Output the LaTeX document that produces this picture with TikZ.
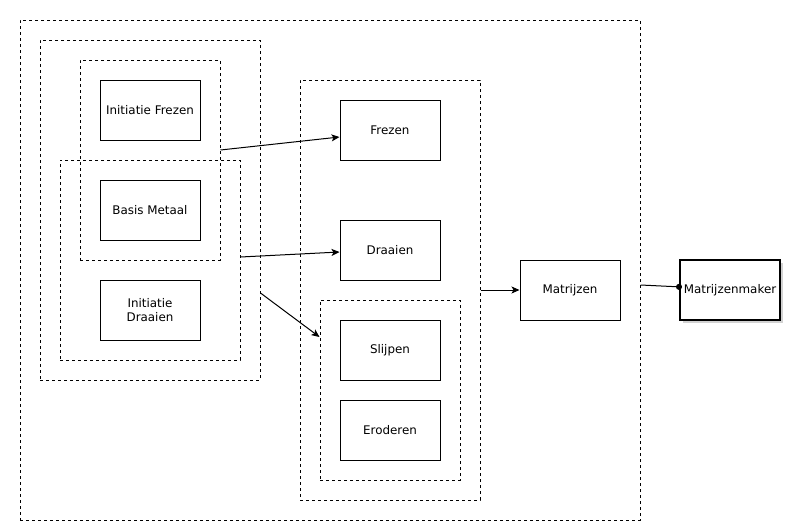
\documentclass[tikz,border=0pt]{standalone}
\usepackage{fontspec}
\setmainfont{DejaVu Sans}
\usepackage{xcolor}
\usetikzlibrary{arrows.meta,shadows}

\begin{document}
\begin{tikzpicture}[x=1pt,y=-1pt,
	box/.style={draw,line width=1pt,fill=white,minimum width=100pt,minimum height=60pt,inner sep=0pt,align=center,font=\fontsize{11.9}{14}\selectfont},
	group/.style={draw,line width=1pt,dash pattern=on 3pt off 3pt,inner sep=0pt},
	link/.style={line width=1pt,-{Stealth[length=8pt,width=7pt,inset=2pt]}}]
	\useasboundingbox (0,0) rectangle (788,525);
	\node [group,minimum width=620pt,minimum height=500pt] (outer) at (330,270) {};
	\node [group,minimum width=220pt,minimum height=340pt] (grpA) at (150,210) {};
	\node [group,minimum width=140pt,minimum height=200pt] (grpB) at (150,160) {};
	\node [group,minimum width=180pt,minimum height=200pt] (grpC) at (150,260) {};
	\node [group,minimum width=180pt,minimum height=420pt] (grpMid) at (390,290) {};
	\node [group,minimum width=140pt,minimum height=180pt] (grpSub) at (390,390) {};
	
	\node [box] (initfrezen) at (150,110) {Initiatie Frezen};
	\node [box] (basis) at (150,210) {Basis Metaal};
	\node [box] (initdraaien) at (150,310) {Initiatie\\Draaien};
	\node [box] (frezen) at (390,130) {Frezen};
	\node [box] (draaien) at (390,250) {Draaien};
	\node [box] (slijpen) at (390,350) {Slijpen};
	\node [box] (eroderen) at (390,430) {Eroderen};
	\node [box] (matrijzen) at (570,290) {Matrijzen};
	\node [box,line width=2pt,drop shadow={shadow xshift=3pt,shadow yshift=-3pt,fill=gray!70}] (maker) at (730,290) {Matrijzenmaker};
	
	\draw [link] ([yshift=10pt]grpB.east) -- ([yshift=-7pt]frezen.west);
	\draw [link] ([yshift=3pt]grpC.east) -- ([yshift=-2pt]draaien.west);
	\draw [link] ([yshift=-83pt]grpA.east) -- ([yshift=53pt]grpSub.west);
	\draw [link] (grpMid.east) -- (matrijzen.west);
	\draw [line width=1pt,-{Circle[length=6pt]}] ([yshift=-15pt]outer.east) -- ([xshift=3pt,yshift=3pt]maker.west);
\end{tikzpicture}
\end{document}
